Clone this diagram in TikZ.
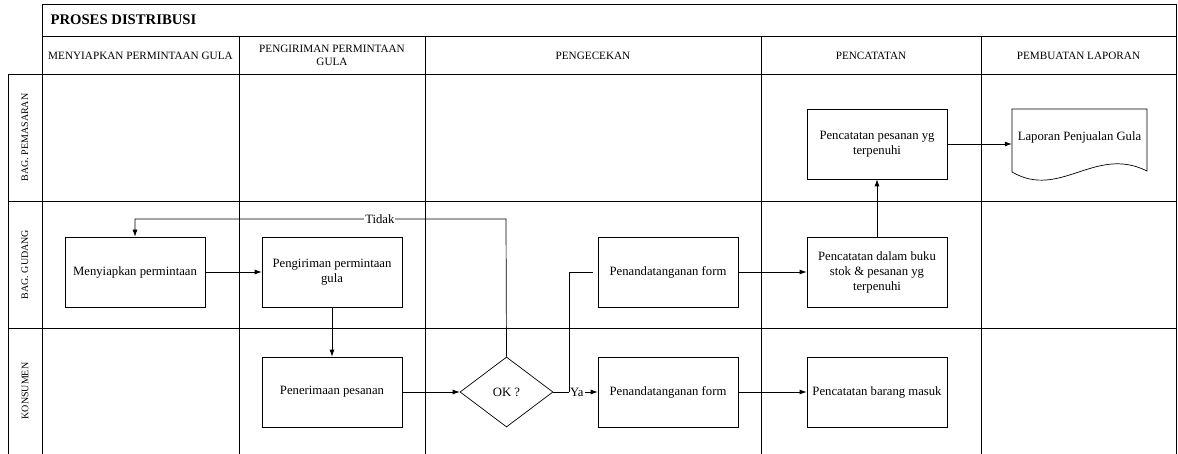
\documentclass[tikz,border=0pt]{standalone}
\usepackage{fontspec}
\setmainfont{Liberation Serif}
\usetikzlibrary{arrows.meta,shapes.geometric}
\begin{document}
\begin{tikzpicture}[x=1pt,y=-1pt,
  grid/.style={line width=0.8pt,draw=black},
  procbox/.style={draw,line width=0.7pt,minimum width=140pt,minimum height=70pt,
    inner sep=2pt,align=center,font=\fontsize{12.7}{15}\selectfont},
  decision/.style={draw,line width=0.7pt,shape=diamond,minimum width=93pt,minimum height=70pt,
    inner sep=0pt,aspect=1.33,font=\fontsize{12.7}{15}\selectfont},
  headtext/.style={align=center,font=\fontsize{11.2}{13}\selectfont},
  lanetext/.style={rotate=90,font=\fontsize{10}{12}\selectfont},
  flow/.style={line width=0.7pt,-{Latex[length=7pt,width=5pt]}},
  plain/.style={line width=0.7pt},
  lbl/.style={fill=white,inner sep=1pt,font=\fontsize{12.7}{15}\selectfont}]
\useasboundingbox (0,0) rectangle (1178,454);

% frame: title, column headers, swimlanes
\draw[grid] (42,4) rectangle (1176,36);
\draw[grid] (42,36) -- (1176,36);
\draw[grid] (8,74) -- (1176,74);
\draw[grid] (8,201) -- (1176,201);
\draw[grid] (8,328) -- (1176,328);
\draw[grid] (8,74) -- (8,454);
\draw[grid] (42,4) -- (42,454);
\foreach \cx in {239,425,761,981} \draw[grid] (\cx,36) -- (\cx,454);
\draw[grid] (1176,4) -- (1176,454);

\node[anchor=west,font=\bfseries\fontsize{14.7}{17}\selectfont] (title) at (47,20) {PROSES DISTRIBUSI};

\node[headtext] (h1) at (140.5,56) {MENYIAPKAN PERMINTAAN GULA};
\node[headtext] (h2) at (332,55) {PENGIRIMAN PERMINTAAN\\GULA};
\node[headtext] (h3) at (593,56) {PENGECEKAN};
\node[headtext] (h4) at (871,56) {PENCATATAN};
\node[headtext] (h5) at (1078.5,56) {PEMBUATAN LAPORAN};

\node[lanetext] (l1) at (25,137.5) {BAG. PEMASARAN};
\node[lanetext] (l2) at (25,264.5) {BAG. GUDANG};
\node[lanetext] (l3) at (25,391) {KONSUMEN};

% process steps
\node[procbox] (siap) at (135,272) {Menyiapkan permintaan};
\node[procbox] (kirim) at (332,272) {Pengiriman permintaan\\gula};
\node[procbox] (terima) at (332,392) {Penerimaan pesanan};
\node[decision] (ok) at (506.5,392) {OK ?};
\node[procbox] (ttd1) at (668,272) {Penandatanganan form};
\node[procbox] (ttd2) at (668,392) {Penandatanganan form};
\node[procbox] (catbuku) at (877,272) {Pencatatan dalam buku\\stok \& pesanan yg\\terpenuhi};
\node[procbox] (catmasuk) at (877,392) {Pencatatan barang masuk};
\node[procbox] (catpesan) at (877,144) {Pencatatan pesanan yg\\terpenuhi};

% report document
\draw[line width=0.7pt] (1012,109) -- (1147,109) -- (1147,171)
  .. controls (1095,145) and (1060,200) .. (1012,172) -- cycle;
\node[inner sep=0pt,minimum width=135pt,minimum height=60pt] (lap) at (1079.5,144) {};
\node[font=\fontsize{12.7}{15}\selectfont] (laptext) at (1079.5,137) {Laporan Penjualan Gula};

% connectors
\coordinate (tidakA) at (506,219);
\coordinate (tidakB) at (135,219);
\coordinate (split) at (569,392);

\draw[flow] (siap) -- (kirim);
\draw[flow] (kirim) -- (terima);
\draw[flow] (terima) -- (ok);
\draw[flow] (ok.east) -- node[lbl,pos=0.53]{Ya} (ttd2.west);
\draw[plain,shorten >=5pt] (split) |- (ttd1.west);
\draw[flow] (ok.north) -- (tidakA) -- node[lbl,pos=0.34]{Tidak} (tidakB) -- (siap.north);
\draw[flow] (ttd1) -- (catbuku);
\draw[flow] (ttd2) -- (catmasuk);
\draw[flow] (catbuku) -- (catpesan);
\draw[flow] (catpesan.east) -- (lap.west);
\end{tikzpicture}
\end{document}
